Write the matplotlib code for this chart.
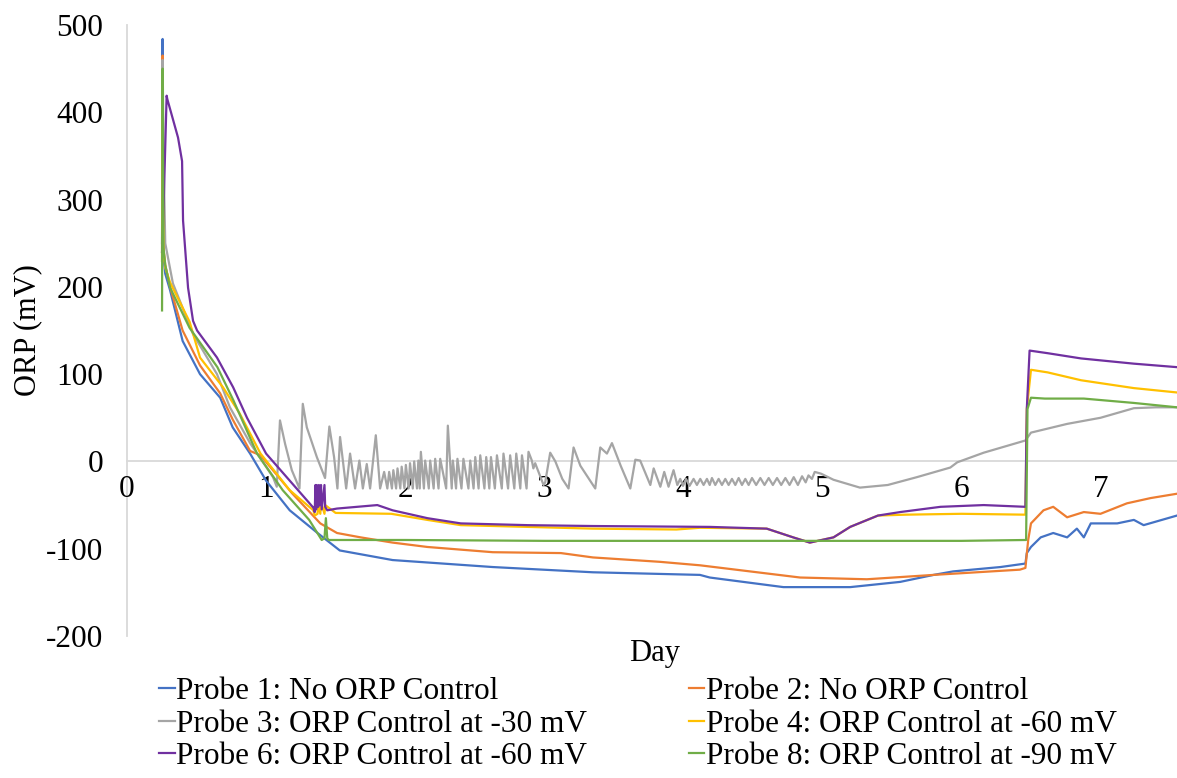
import matplotlib
matplotlib.use("Agg")
import matplotlib.pyplot as plt

plt.rcParams['font.family'] = ['Liberation Serif', 'DejaVu Serif']

# ---------------- data (day, ORP mV) ----------------
p1_day = [0.252, 0.256, 0.262, 0.275, 0.31, 0.40, 0.525, 0.67, 0.76, 0.885, 1.0, 1.17, 1.37, 1.41,
          1.53, 1.91, 2.63, 3.35, 4.12, 4.19, 4.72, 5.2, 5.56, 5.8, 5.94, 6.28, 6.46, 6.47, 6.5,
          6.57, 6.66, 6.76, 6.83, 6.88, 6.93, 7.12, 7.24, 7.31, 7.55]
p1_mv = [250, 484, 235, 215, 196, 138, 100, 73, 39, 9, -22, -56, -82, -87,
         -102, -113, -121, -127, -130, -133, -144, -144, -138, -130, -126, -121, -117, -105, -98,
         -87, -82, -87, -77, -87, -71, -71, -67, -73, -62]

p2_day = [0.252, 0.256, 0.262, 0.275, 0.31, 0.40, 0.525, 0.67, 0.76, 0.885, 0.96, 1.19, 1.39,
          1.51, 1.68, 1.91, 2.16, 2.63, 3.12, 3.35, 3.83, 4.12, 4.84, 5.32, 5.8, 6.42, 6.46, 6.48,
          6.5, 6.59, 6.66, 6.76, 6.88, 7.0, 7.19, 7.36, 7.55]
p2_mv = [240, 465, 245, 225, 200, 150, 110, 78, 48, 12, 7, -37, -71,
         -82, -87, -93, -98, -104, -105, -110, -115, -119, -133, -135, -130, -124, -122, -90,
         -71, -56, -52, -64, -58, -60, -48, -42, -37]

p3_day = [0.252, 0.256, 0.265, 0.275, 0.33, 0.475, 0.647, 0.74, 0.885, 1.05, 1.077, 1.10, 1.137,
          1.185, 1.24, 1.264, 1.293, 1.365, 1.424, 1.455, 1.489, 1.513, 1.532, 1.576, 1.604, 1.64,
          1.671, 1.696, 1.724, 1.748, 1.789, 1.82, 1.849, 1.872, 1.885, 1.905, 1.915, 1.935, 1.945,
          1.965, 1.975, 1.995, 2.005, 2.025, 2.035, 2.055, 2.065, 2.085, 2.095, 2.105, 2.113, 2.135,
          2.144, 2.170, 2.18, 2.205, 2.216, 2.24, 2.252, 2.295, 2.307, 2.335, 2.343, 2.366, 2.376,
          2.405, 2.419, 2.455, 2.468, 2.492, 2.504, 2.528, 2.54, 2.57, 2.583, 2.605, 2.617, 2.645,
          2.66, 2.695, 2.707, 2.74, 2.755, 2.785, 2.799, 2.828, 2.84, 2.873, 2.887, 2.911, 2.922,
          2.935, 2.995, 3.007, 3.043, 3.08, 3.13, 3.175, 3.211, 3.26, 3.367, 3.403, 3.451, 3.487,
          3.55, 3.619, 3.655, 3.69, 3.763, 3.787, 3.835, 3.863, 3.894, 3.93, 3.957, 3.978, 3.998,
          4.02, 4.045, 4.074, 4.098, 4.122, 4.146, 4.17, 4.19, 4.206, 4.23, 4.254, 4.278, 4.302,
          4.326, 4.35, 4.374, 4.398, 4.422, 4.446, 4.47, 4.494, 4.524, 4.554, 4.584, 4.614, 4.644,
          4.674, 4.704, 4.734, 4.764, 4.794, 4.824, 4.854, 4.88, 4.9, 4.925, 4.945, 4.99, 5.08,
          5.27, 5.47, 5.68, 5.92, 5.97, 6.16, 6.46, 6.5, 6.76, 7.0, 7.24, 7.4, 7.55]
p3_mv = [230, 460, 330, 250, 204, 146, 100, 62, 21, -18, -29, 47, 20,
         -10, -31, 66, 39, 5, -19, 40, 5, -31, 28, -31, 9, -31,
         1, -31, -3, -31, 30, -31, -12, -31, -12, -31, -10, -31, -8,
         -31, -6, -31, -4, -31, -2, -31, 0, -31, 1, -31, 11, -31,
         1, -31, 1, -31, 3, -31, 3, -31, 41, -31, 1, -31, 3,
         -31, 3, -31, 1, -31, 5, -31, 7, -31, 5, -31, 5, -31,
         7, -31, 9, -31, 7, -31, 9, -31, 7, -31, 11, 1, -8,
         -2, -27, -24, 10, 0, -20, -31, 16, -5, -31, 16, 9, 21,
         -5, -31, 2, 1, -27, -8, -29, -12, -29, -10, -27, -20, -28,
         -20, -28, -20, -27, -20, -27, -20, -27, -19, -27, -20, -27, -20,
         -27, -20, -27, -19, -27, -20, -27, -19, -27, -19, -27, -19, -27,
         -19, -27, -19, -27, -18, -27, -17, -24, -16, -20, -12, -14, -21,
         -30, -27, -18, -7, -1, 10, 24, 33, 43, 50, 61, 62, 62]

p4_day = [0.252, 0.256, 0.262, 0.275, 0.31, 0.45, 0.525, 0.69, 0.81, 0.96, 1.17, 1.34, 1.35,
          1.37, 1.375, 1.39, 1.395, 1.42, 1.425, 1.5, 1.9, 2.16, 2.4, 2.88, 3.35, 3.95, 4.12, 4.6,
          4.79, 4.91, 5.08, 5.2, 5.4, 5.6, 6.0, 6.46, 6.47, 6.5, 6.62, 6.86, 7.24, 7.55]
p4_mv = [230, 440, 240, 222, 205, 160, 119, 85, 55, 9, -33, -56, -62,
         -60, -48, -60, -47, -60, -50, -59, -60, -67, -73, -75, -77, -78, -76, -77,
         -87, -93, -87, -75, -62, -61, -60, -61, 60, 105, 102, 93, 84, 79]

p6_day = [0.252, 0.258, 0.285, 0.29, 0.367, 0.396, 0.403, 0.439, 0.475, 0.504, 0.647, 0.763,
          0.863, 1.0, 1.17, 1.34, 1.35, 1.355, 1.36, 1.365, 1.375, 1.38, 1.39, 1.395, 1.40, 1.42,
          1.425, 1.44, 1.51, 1.80, 1.91, 2.16, 2.40, 2.88, 3.35, 4.19, 4.6, 4.79, 4.91, 5.08, 5.2,
          5.4, 5.56, 5.85, 6.16, 6.46, 6.47, 6.49, 6.62, 6.86, 7.24, 7.55]
p6_mv = [240, 262, 419, 415, 371, 344, 276, 199, 161, 150, 119, 85,
         50, 9, -22, -53, -58, -27, -55, -27, -52, -27, -50, -27, -55, -27,
         -52, -56, -54, -50, -56, -65, -71, -73, -74, -75, -77, -87, -93, -87, -75,
         -62, -58, -52, -50, -52, 60, 127, 124, 118, 112, 108]

p8_day = [0.252, 0.256, 0.262, 0.275, 0.31, 0.45, 0.65, 0.765, 0.935, 1.12, 1.31, 1.40, 1.42,
          1.43, 1.44, 1.45, 2.0, 3.0, 4.0, 5.0, 6.0, 6.465, 6.475, 6.5, 6.6, 6.88, 7.24, 7.55]
p8_mv = [173, 450, 245, 225, 199, 153, 108, 70, 9, -33, -67, -90, -88,
         -65, -88, -90, -90, -91, -91, -91, -91, -90, 60, 73, 72, 72, 67, 62]

series = [
    ("Probe 1: No ORP Control", p1_day, p1_mv, "#4472C4"),
    ("Probe 2: No ORP Control", p2_day, p2_mv, "#ED7D31"),
    ("Probe 3: ORP Control at -30 mV", p3_day, p3_mv, "#A5A5A5"),
    ("Probe 4: ORP Control at -60 mV", p4_day, p4_mv, "#FFC000"),
    ("Probe 6: ORP Control at -60 mV", p6_day, p6_mv, "#7030A0"),
    ("Probe 8: ORP Control at -90 mV", p8_day, p8_mv, "#70AD47"),
]
y_ticks = [-200, -100, 0, 100, 200, 300, 400, 500]
x_ticks = [0, 1, 2, 3, 4, 5, 6, 7]

# ---------------- figure ----------------
fig = plt.figure(figsize=(11.77, 7.78), dpi=100)
ax = fig.add_axes([127 / 1177, 1 - 636 / 778, 1 - 127 / 1177, (636 - 25) / 778])

handles = {}
for i, (label, d, v, c) in enumerate(series):
    ln, = ax.plot(d, v, color=c, lw=1.6, label=label, zorder=3 + i, solid_joinstyle='round')
    handles[label] = ln

ax.set_xlim(0, 7.55)
ax.set_ylim(-200, 500)
ax.set_yticks(y_ticks)
ax.set_yticklabels([str(t) for t in y_ticks])
ax.set_xticks(x_ticks)
ax.set_xticklabels([str(t) for t in x_ticks])

for s in ['top', 'right']:
    ax.spines[s].set_visible(False)
ax.spines['bottom'].set_position(('data', 0))
ax.spines['bottom'].set_color('#d9d9d9')
ax.spines['bottom'].set_linewidth(1.3)
ax.spines['bottom'].set_zorder(1)
ax.spines['left'].set_color('#d9d9d9')
ax.spines['left'].set_linewidth(1.3)
ax.spines['left'].set_zorder(1)
ax.tick_params(axis='both', length=0, labelsize=22.5, colors='black')
ax.tick_params(axis='x', pad=10)
ax.tick_params(axis='y', pad=17)

fig.text(655 / 1177, 1 - 654 / 778, "Day", ha='center', va='center', fontsize=22)
fig.text(28 / 1177, 1 - 330 / 778, "ORP (mV)", ha='center', va='center', fontsize=22, rotation=90)

order = [0, 2, 4, 1, 3, 5]
h = [handles[series[k][0]] for k in order]
l = [series[k][0] for k in order]
leg = fig.legend(h, l, loc='center', bbox_to_anchor=(638 / 1177, 1 - 724 / 778), ncol=2,
                 frameon=False, fontsize=22.5, handlelength=0.5, handletextpad=0.05,
                 columnspacing=3.25, labelspacing=0.12, borderpad=0)

fig.savefig("out.png", dpi=100)
